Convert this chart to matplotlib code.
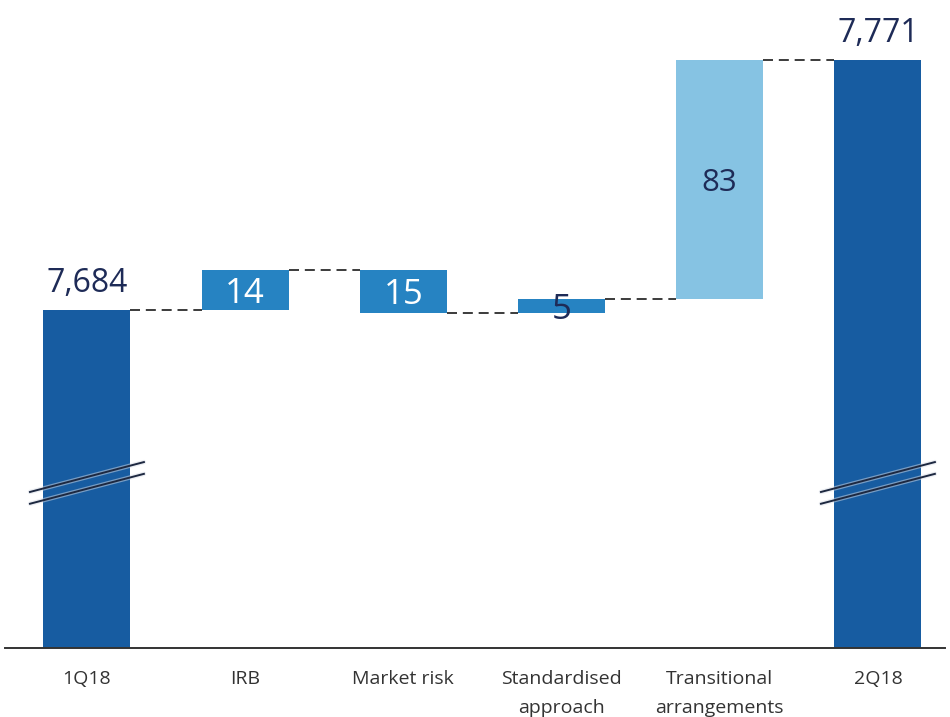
import matplotlib
matplotlib.use("Agg")
import matplotlib.pyplot as plt

plt.rcParams["font.family"] = ["Open Sans", "DejaVu Sans"]

# Waterfall data (RWA bridge)
categories = ["1Q18", "IRB", "Market risk", "Standardised\napproach",
              "Transitional\narrangements", "2Q18"]
start_total = 7684
changes = [14, -15, 5, 83]
end_total = 7771
value_labels = ["7,684", "14", "15", "5", "83", "7,771"]

# Visible floor of the broken value axis
axis_floor = 7566.4
axis_top = 7791.9

c_total = "#175ca1"
c_step = "#2683c2"
c_trans = "#86c3e3"
c_text = "#1e2b57"
step_colors = [c_step, c_step, c_step, c_trans]
step_text_colors = ["white", "white", c_text, c_text]
step_text_sizes = [25, 25, 25, 22.5]

fig = plt.figure(figsize=(9.5, 7.17), dpi=100)
ax = fig.add_axes([5 / 950, 1 - 648 / 717, 940 / 950, 648 / 717])
ax.set_xlim(-0.518, 5.424)
ax.set_ylim(axis_floor, axis_top)

w = 0.55
x = list(range(len(categories)))

# opening total
ax.bar(x[0], start_total - axis_floor, bottom=axis_floor, width=w, color=c_total, zorder=2)
ax.annotate(value_labels[0], (x[0], start_total), xytext=(0, 13), textcoords="offset points",
            ha="center", va="baseline", fontsize=23, color=c_text)

levels = [start_total]
level = start_total
for i, ch in enumerate(changes):
    new = level + ch
    lo = min(level, new)
    xi = x[i + 1]
    ax.bar(xi, abs(ch), bottom=lo, width=w, color=step_colors[i], zorder=2)
    ax.text(xi, lo + abs(ch) / 2, value_labels[i + 1], ha="center", va="center_baseline",
            fontsize=step_text_sizes[i], color=step_text_colors[i], zorder=3)
    level = new
    levels.append(level)

# closing total
ax.bar(x[-1], end_total - axis_floor, bottom=axis_floor, width=w, color=c_total, zorder=2)
ax.annotate(value_labels[-1], (x[-1], end_total), xytext=(0, 13), textcoords="offset points",
            ha="center", va="baseline", fontsize=23, color=c_text)

# dashed connectors between consecutive bars
for i in range(len(levels)):
    ax.plot([x[i] + w / 2, x[i + 1] - w / 2], [levels[i], levels[i]],
            color="#1a1a1a", lw=1.2, dashes=(6, 3.5), zorder=1)

# axis-break marks on the two total bars
for xb in (x[0], x[-1]):
    for yc in (7625.9, 7621.8):
        ax.plot([xb - 0.36, xb + 0.36], [yc - 5.2, yc + 5.2], color="#d8dde6", lw=3.2,
                alpha=0.5, zorder=3, solid_capstyle="round")
        ax.plot([xb - 0.36, xb + 0.36], [yc - 5.2, yc + 5.2], color="#1d2840", lw=1.4,
                zorder=4)

for s in ("top", "right", "left"):
    ax.spines[s].set_visible(False)
ax.spines["bottom"].set_color("#333333")
ax.spines["bottom"].set_linewidth(1.4)
ax.set_yticks([])
ax.set_xticks(x)
ax.set_xticklabels(categories, fontsize=14, color="#333333", linespacing=1.75)
ax.tick_params(axis="x", length=0, pad=16)

fig.savefig("out.png", dpi=100)
